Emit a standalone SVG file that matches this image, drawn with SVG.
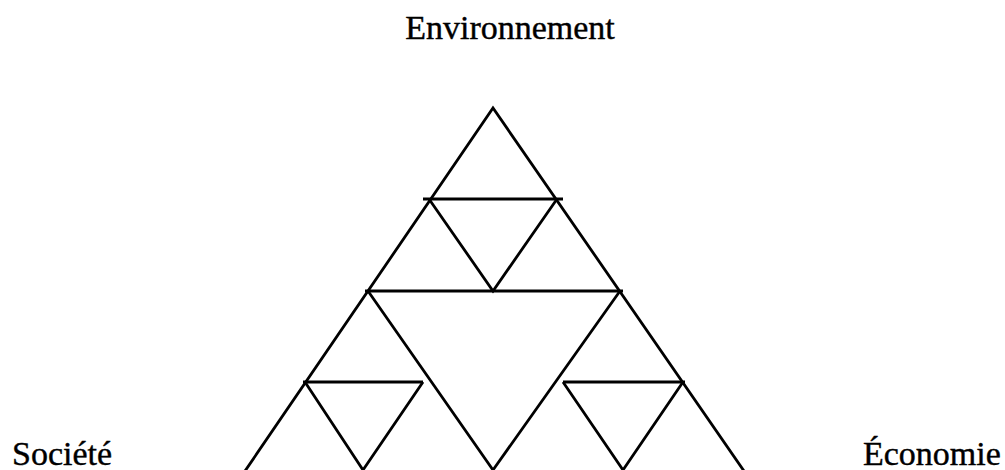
<svg xmlns="http://www.w3.org/2000/svg" width="1005" height="470" viewBox="0 0 1005 470">
<style>
.l{stroke:#000;stroke-width:2.8;fill:none;stroke-linejoin:miter;stroke-linecap:butt}
.t{font-family:"Liberation Serif","Times New Roman",serif;font-size:34px;fill:#000;stroke:#000;stroke-width:0.4}
</style>
<rect width="1005" height="470" fill="#fff"/>
<g id="labels">
<text id="environnement" class="t" x="510" y="39" text-anchor="middle">Environnement</text>
<text id="societe" class="t" x="12" y="465">Société</text>
<text id="economie" class="t" x="863" y="465">Économie</text>
</g>
<g id="connectors">
<path class="l" d="M245,471 L493,108 L744,471"/>
<path class="l" d="M423,199 L563,199"/>
<path class="l" d="M429,199 L493,291 L557,199"/>
<path class="l" d="M365,291 L623,291"/>
<path class="l" d="M368,291 L493,470 L620,291"/>
<path class="l" d="M303,382 L423,382"/>
<path class="l" d="M305,382 L363,470 L423,382"/>
<path class="l" d="M563,382 L685,382"/>
<path class="l" d="M563,382 L623,470 L683,382"/>
</g>
</svg>
